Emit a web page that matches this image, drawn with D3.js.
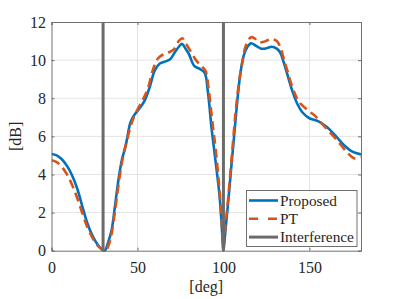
<!DOCTYPE html>
<html><head><meta charset="utf-8">
<script src="https://cdn.jsdelivr.net/npm/d3@7"></script>
<style>body{margin:0;background:#fff;} svg{display:block;}</style>
</head><body>
<svg id="c" width="399" height="299" font-family="Liberation Serif"></svg>
<script>
const proposedDeg = [0,3,6,9,12,15,18,21,24,27,30,31,33,35,37,39,41,43,46,48,51,54,57,60,63,66,69,72,75,76,78,80,83,86,89,91,93,95,97,98,99,100,101,103,105,106,108,110,112,114,116,119,122,125,128,131,133,135,137,140,143,146,150,155,160,165,170,175,180];
const proposedVal = [5.07,5.0,4.8,4.45,3.95,3.25,2.3,1.4,0.75,0.3,0.02,0,0.45,1.1,2.4,3.75,4.8,5.45,6.75,7.1,7.45,7.85,8.55,9.45,9.82,9.92,10.05,10.45,10.8,10.85,10.6,10.3,9.7,9.55,9.35,8.3,6.5,5.0,3.5,2.6,1.3,0,0.9,2.8,4.85,5.8,7.8,9.4,10.3,10.7,10.88,10.75,10.6,10.62,10.7,10.6,10.4,9.9,9.3,8.4,7.7,7.25,6.95,6.8,6.5,6.05,5.55,5.2,5.05];
const ptDeg = [0,3,6,9,12,15,18,21,24,27,30,31.5,34,36,38,40,42,44,47,50,53,56,59,62,65,68,71,74,76,78,81,84,87,89.5,91.5,93.5,95.5,97.5,99,100,101,103,105,107,109,111,113,116,118,120.5,123,126,128,131,133,135,137,140,143,145,150,153,157,162,167,172,176,180];
const ptVal = [4.75,4.65,4.4,4.0,3.45,2.75,1.95,1.2,0.65,0.25,0.03,0,0.5,1.5,2.8,4.1,5.1,5.85,6.8,7.4,7.9,8.5,9.5,10.1,10.3,10.4,10.55,11.0,11.15,10.9,10.45,10.0,9.7,9.45,8.4,6.8,5.3,3.4,1.5,0.2,1.1,3.0,5.1,7.2,8.8,9.9,10.75,11.2,11.15,10.95,10.95,11.05,11.1,11.0,10.7,10.1,9.5,8.6,7.95,7.7,7.3,7.1,6.7,6.2,5.7,5.15,4.85,4.9];
const interferenceDeg = [30,100];
const xTicks = [0,50,100,150];
const yTicks = [0,2,4,6,8,10,12];
const legendLabels = ["Proposed","PT","Interference"];
const colors = ["#0072BD","#D95319","#6b6b6b"];

const FONT = '"Liberation Serif"';
const svg = d3.select("#c");
const L=51.5,R=361,T=22,B=250.7;
const x = d3.scaleLinear().domain([0,180]).range([L,R]);
const y = d3.scaleLinear().domain([0,12]).range([B,T]);

// grid
svg.append("g").selectAll("line").data(xTicks.slice(1)).join("line")
  .attr("x1",d=>x(d)).attr("x2",d=>x(d)).attr("y1",T).attr("y2",B)
  .attr("stroke","#e3e3e3").attr("stroke-width",1);
svg.append("g").selectAll("line").data(yTicks.slice(1,-1)).join("line")
  .attr("y1",d=>y(d)).attr("y2",d=>y(d)).attr("x1",L).attr("x2",R)
  .attr("stroke","#e3e3e3").attr("stroke-width",1);

svg.append("defs").append("clipPath").attr("id","cp").append("rect")
  .attr("x",L).attr("y",T-2).attr("width",R-L).attr("height",B-T+4);

const line = d3.line().x(d=>x(d[0])).y(d=>y(d[1])).curve(d3.curveCatmullRom.alpha(0.5));
const pData = proposedDeg.map((d,i)=>[d,proposedVal[i]]);
const tData = ptDeg.map((d,i)=>[d,ptVal[i]]);
const g = svg.append("g").attr("clip-path","url(#cp)");
g.append("path").attr("d",line(pData)).attr("fill","none").attr("stroke",colors[0]).attr("stroke-width",2.6);
g.append("path").attr("d",line(tData)).attr("fill","none").attr("stroke",colors[1]).attr("stroke-width",2.6).attr("stroke-dasharray","9,5");
g.selectAll("line.int").data(interferenceDeg).join("line").attr("class","int")
  .attr("x1",d=>x(d)).attr("x2",d=>x(d)).attr("y1",T).attr("y2",B)
  .attr("stroke",colors[2]).attr("stroke-width",3);

// axes
const axc="#707070";
const xa = svg.append("g").attr("transform",`translate(0,${B})`).call(d3.axisBottom(x).tickValues(xTicks).tickSize(-3).tickPadding(10.5));
const xa2 = svg.append("g").attr("transform",`translate(0,${T})`).call(d3.axisTop(x).tickValues(xTicks).tickSize(-3).tickFormat(""));
const ya = svg.append("g").attr("transform",`translate(${L},0)`).call(d3.axisLeft(y).tickValues(yTicks).tickSize(-3).tickPadding(5.5));
const ya2 = svg.append("g").attr("transform",`translate(${R},0)`).call(d3.axisRight(y).tickValues(yTicks).tickSize(-3).tickFormat(""));
[xa,xa2,ya,ya2].forEach(a=>{
  a.attr("font-family",FONT).attr("font-size",16);
  a.select(".domain").attr("stroke",axc).attr("stroke-width",1);
  a.selectAll(".tick line").attr("stroke",axc);
  a.selectAll("text").attr("fill","#262626").attr("font-family",FONT);
});

svg.append("text").attr("x",(L+R)/2).attr("y",292).attr("text-anchor","middle").attr("font-family",FONT).attr("font-size",16).attr("fill","#262626").text("[deg]");
svg.append("text").attr("transform",`translate(21,${(T+B)/2}) rotate(-90)`).attr("text-anchor","middle").attr("font-family",FONT).attr("font-size",16).attr("fill","#262626").text("[dB]");

// legend
const lg = svg.append("g");
lg.append("rect").attr("x",246.5).attr("y",190.5).attr("width",110.5).attr("height",56).attr("fill","#fff").attr("stroke",axc);
legendLabels.forEach((lab,i)=>{
  const yy = 200.5 + i*18.3;
  lg.append("line").attr("x1",249).attr("x2",278).attr("y1",yy).attr("y2",yy)
    .attr("stroke",colors[i]).attr("stroke-width",i===2?3:2.6)
    .attr("stroke-dasharray",i===1?"9,10":null);
  lg.append("text").attr("x",280).attr("y",yy+5).attr("font-family",FONT).attr("font-size",15.3).attr("fill","#262626").text(lab);
});
</script>
</body></html>
